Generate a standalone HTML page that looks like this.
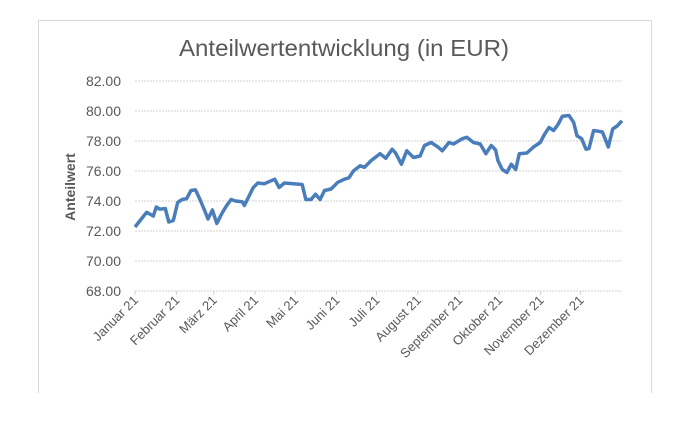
<!DOCTYPE html>
<html><head><meta charset="utf-8"><style>
body{margin:0;background:#fff;width:694px;height:426px;overflow:hidden}
svg text{font-family:"Liberation Sans",sans-serif;fill:#595959}
</style></head><body>
<svg width="694" height="426">
<rect x="38.5" y="20.5" width="613" height="380" fill="#fff" stroke="#d9d9d9"/>
<rect x="36" y="393" width="620" height="40" fill="#fff"/>
<text x="344" y="56" font-size="23" text-anchor="middle" textLength="330" lengthAdjust="spacingAndGlyphs">Anteilwertentwicklung (in EUR)</text>
<text transform="translate(75,187) rotate(-90)" font-size="14" font-weight="bold" text-anchor="middle">Anteilwert</text>
<g id="grid"></g><g id="ylab"></g><g id="xlab"></g><g id="series"></g>
</svg>
<script>
const yTicks=[68,70,72,74,76,78,80,82];
const monthLabels=["Januar 21","Februar 21","März 21","April 21","Mai 21","Juni 21","Juli 21","August 21","September 21","Oktober 21","November 21","Dezember 21"];
const monthStartDays=[0,31,59,90,120,151,181,212,243,273,304,334];
const days=[0,4.7,8.7,13.7,16,18.7,22.7,25.3,28.7,32,35.3,38.7,42,45.3,48.7,52,54.7,58,61.3,65.3,68.7,72,75.3,80.3,82,85.3,88.7,92,97,102,104.7,108,112,118.7,125.3,128,132,135.3,138.7,142,147,152,157,160.3,163.7,168.7,172,177,183.7,188,192.7,195.3,199.7,203.7,208.7,213.7,217,222,227,230.3,235.3,238.7,245.3,248.7,253.7,258.7,263,267,270.3,272,275.3,278.7,282,285.3,288,293.7,298.7,303.7,307,310.3,313.7,317,320.3,325.3,328.7,331.3,334.7,338,340.3,343.7,347,350.3,352.3,354.7,358,361.3,365];
const values=[72.27,72.8,73.25,73.0,73.6,73.45,73.5,72.6,72.7,73.9,74.1,74.15,74.7,74.75,74.1,73.4,72.8,73.4,72.5,73.2,73.7,74.1,74.0,73.95,73.7,74.3,74.9,75.2,75.15,75.35,75.45,74.9,75.2,75.15,75.1,74.1,74.1,74.45,74.1,74.7,74.8,75.25,75.45,75.55,76.0,76.35,76.25,76.7,77.15,76.85,77.45,77.2,76.45,77.35,76.9,77.0,77.7,77.9,77.6,77.35,77.9,77.8,78.15,78.25,77.9,77.8,77.15,77.7,77.4,76.7,76.1,75.9,76.45,76.1,77.15,77.2,77.6,77.9,78.45,78.9,78.7,79.1,79.65,79.7,79.25,78.35,78.15,77.45,77.5,78.7,78.65,78.6,78.15,77.6,78.8,79.0,79.35];
const X0=135,X1=622,Y0=291,Y1=81,VMIN=68,VMAX=82;
const xs=d=>X0+(X1-X0)*d/365;
const ys=v=>Y0-(Y0-Y1)*(v-VMIN)/(VMAX-VMIN);
const NS="http://www.w3.org/2000/svg";
function mk(t,a,p){const e=document.createElementNS(NS,t);for(const k in a)e.setAttribute(k,a[k]);document.getElementById(p).appendChild(e);return e;}
yTicks.forEach(v=>{
 const l=mk("line",{x1:X0,x2:X1,y1:ys(v),y2:ys(v),stroke:"#d0d0d0","stroke-dasharray":"2,1"},"grid");
 
 
 const t=mk("text",{x:121,y:ys(v)+5,"font-size":"14","text-anchor":"end"},"ylab");
 t.textContent=v.toFixed(2);
 
 
});
monthStartDays.forEach((d,i)=>{
 const tk=mk("line",{x1:xs(d),x2:xs(d),y1:Y0,y2:Y0+4,stroke:"#d0d0d0"},"grid");
 
 
 const t=mk("text",{transform:`translate(${xs(d)+4},${Y0+10}) rotate(-45)`,"font-size":"13","text-anchor":"end"},"xlab");
 t.textContent=monthLabels[i];
 
 
});
const p=mk("path",{d:days.map((d,i)=>(i?"L":"M")+xs(d).toFixed(1)+","+ys(values[i]).toFixed(1)).join(""),fill:"none",stroke:"#4a7ebb","stroke-width":"3.5","stroke-linejoin":"round"},"series");


</script>
</body></html>
